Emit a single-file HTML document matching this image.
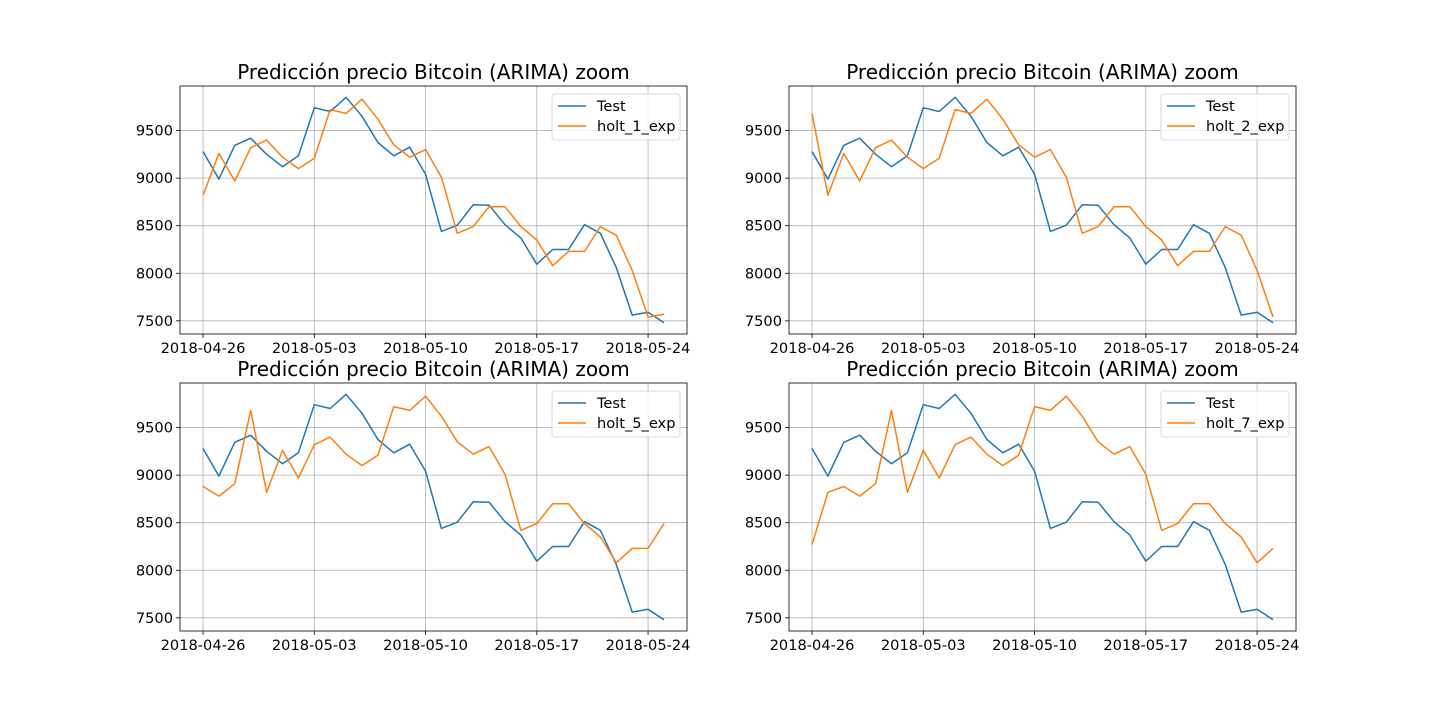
<!DOCTYPE html>
<html><head><meta charset="utf-8"><style>
html,body{margin:0;padding:0;background:#fff;}
svg{display:block;font-family:"DejaVu Sans","Liberation Sans",sans-serif;}
</style></head><body>
<svg id="fig" width="1440" height="720" viewBox="0 0 1440 720"></svg>
<script>
const dateLabels = ["2018-04-26","2018-05-03","2018-05-10","2018-05-17","2018-05-24"];
const dateTickDays = [0,7,14,21,28];
const yTicks = [7500,8000,8500,9000,9500];
const testValues = [9280,8990,9345,9420,9250,9120,9235,9740,9700,9850,9650,9375,9235,9325,9040,8440,8505,8720,8715,8510,8370,8095,8250,8250,8510,8420,8060,7560,7590,7480];
const holt1Values = [8820,9260,8970,9320,9400,9220,9100,9210,9720,9680,9830,9620,9350,9220,9300,9010,8420,8490,8700,8700,8490,8350,8080,8230,8230,8490,8400,8030,7540,7570];
const holt2Values = [9680,8820,9260,8970,9320,9400,9220,9100,9210,9720,9680,9830,9620,9350,9220,9300,9010,8420,8490,8700,8700,8490,8350,8080,8230,8230,8490,8400,8030,7540];
const holt5Values = [8880,8780,8910,9680,8820,9260,8970,9320,9400,9220,9100,9210,9720,9680,9830,9620,9350,9220,9300,9010,8420,8490,8700,8700,8490,8350,8080,8230,8230,8490];
const holt7Values = [8270,8820,8880,8780,8910,9680,8820,9260,8970,9320,9400,9220,9100,9210,9720,9680,9830,9620,9350,9220,9300,9010,8420,8490,8700,8700,8490,8350,8080,8230];
const seriesNames = ["holt_1_exp","holt_2_exp","holt_5_exp","holt_7_exp"];
const predictionSeries = [holt1Values,holt2Values,holt5Values,holt7Values];

const NS="http://www.w3.org/2000/svg";
const svg=document.getElementById('fig');
function mk(tag,attrs,parent){const e=document.createElementNS(NS,tag);for(const k in attrs)e.setAttribute(k,attrs[k]);(parent||svg).appendChild(e);return e;}
const panels=[{x:180,y:86},{x:789,y:86},{x:180,y:383},{x:789,y:383}];
const W=507,H=248;
panels.forEach((p,i)=>{
  const g=mk('g',{});
  
  
  const n=testValues.length;
  const all=testValues.concat(predictionSeries[i]);
  const mn=Math.min(...all),mx=Math.max(...all),pad=(mx-mn)*0.05;
  const y0=mn-pad,y1=mx+pad;
  const x0=-(n-1)*0.05,x1=(n-1)*1.05;
  const sx=d=>p.x+(d-x0)/(x1-x0)*W;
  const sy=v=>p.y+H-(v-y0)/(y1-y0)*H;
  dateTickDays.forEach((d,j)=>{
    const x=sx(d);
    const gl=mk('line',{x1:x,x2:x,y1:p.y,y2:p.y+H,stroke:'#b0b0b0','stroke-width':0.8},g);
    
    
    mk('line',{x1:x,x2:x,y1:p.y+H,y2:p.y+H+4,stroke:'#000','stroke-width':0.8},g);
    const t=mk('text',{x:x,y:p.y+H+19,'text-anchor':'middle','font-size':14.6},g);
    
    
    t.textContent=dateLabels[j];
  });
  yTicks.forEach(v=>{
    const y=sy(v);
    const gl=mk('line',{x1:p.x,x2:p.x+W,y1:y,y2:y,stroke:'#b0b0b0','stroke-width':0.8},g);
    
    
    mk('line',{x1:p.x-4,x2:p.x,y1:y,y2:y,stroke:'#000','stroke-width':0.8},g);
    const t=mk('text',{x:p.x-7,y:y+5,'text-anchor':'end','font-size':14.6},g);
    
    
    t.textContent=v;
  });
  const series=[[testValues,'#1f77b4','test-line'],[predictionSeries[i],'#ff7f0e','prediction-line']];
  series.forEach(s=>{
    const pts=s[0].map((v,k)=>sx(k).toFixed(1)+','+sy(v).toFixed(1)).join(' ');
    const pl=mk('polyline',{points:pts,fill:'none',stroke:s[1],'stroke-width':1.5,'stroke-linejoin':'round'},g);
    
    
  });
  const fr=mk('rect',{x:p.x,y:p.y,width:W,height:H,fill:'none',stroke:'#000','stroke-width':0.8},g);
  
  
  const tt=mk('text',{x:p.x+W/2,y:p.y-7,'text-anchor':'middle','font-size':20},g);
  
  
  tt.textContent='Predicción precio Bitcoin (ARIMA) zoom';
  const lg=mk('g',{},g);
  
  
  const lx=p.x+W-135,ly=p.y+8;
  mk('rect',{x:lx,y:ly,width:128,height:46,rx:3,fill:'#fff','fill-opacity':0.8,stroke:'#d0d0d0','stroke-width':0.8},lg);
  [['Test','#1f77b4'],[seriesNames[i],'#ff7f0e']].forEach((e,k)=>{
    const eg=mk('g',{},lg);
    
    
    const yy=ly+12+k*20;
    mk('line',{x1:lx+6,x2:lx+34,y1:yy,y2:yy,stroke:e[1],'stroke-width':1.5},eg);
    const t=mk('text',{x:lx+45,y:yy+5,'font-size':14.6},eg);
    t.textContent=e[0];
  });
});
</script>
</body></html>
